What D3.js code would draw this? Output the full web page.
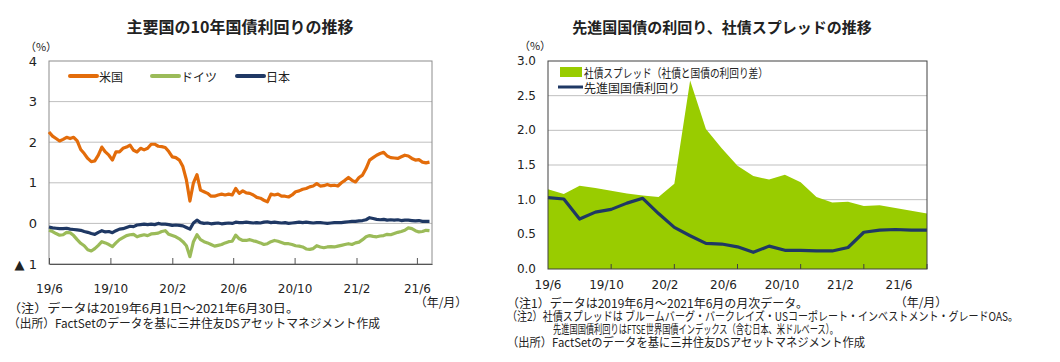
<!DOCTYPE html>
<html>
<head>
<meta charset="utf-8">
<script src="https://cdn.jsdelivr.net/npm/d3@7"></script>
<style>
  body { margin: 0; background: #fff; }
  svg text { font-family: "Noto Sans CJK JP", sans-serif; fill: #222; }
  .num { font-family: "DejaVu Sans", sans-serif; }
</style>
</head>
<body>
<script>
// ---- left chart data: weekly readings from 2019-06-01 ----
var startDate = new Date(2019, 5, 1);
var usYield = [2.25,2.15,2.09,2.03,2.07,2.12,2.09,2.12,2.03,1.82,1.72,1.60,1.52,1.54,1.68,1.88,1.76,1.68,1.56,1.76,
  1.76,1.85,1.88,1.93,1.80,1.76,1.85,1.81,1.85,1.95,1.95,1.90,1.89,1.87,1.77,1.64,1.62,1.56,1.40,1.07,
  0.55,1.00,1.20,0.82,0.78,0.74,0.67,0.67,0.70,0.72,0.70,0.72,0.70,0.86,0.74,0.80,0.75,0.74,0.70,0.64,
  0.62,0.57,0.53,0.72,0.70,0.72,0.67,0.67,0.65,0.70,0.78,0.80,0.84,0.86,0.90,0.92,0.98,0.92,0.93,0.96,
  0.93,0.94,0.92,1.00,1.06,1.13,1.06,1.02,1.13,1.19,1.35,1.56,1.62,1.68,1.72,1.75,1.66,1.62,1.61,1.60,
  1.64,1.68,1.66,1.60,1.56,1.57,1.51,1.49,1.51];
var deYield = [-0.17,-0.20,-0.25,-0.29,-0.28,-0.22,-0.23,-0.30,-0.40,-0.49,-0.55,-0.65,-0.68,-0.62,-0.54,-0.45,-0.48,-0.52,-0.57,-0.48,
  -0.40,-0.35,-0.30,-0.28,-0.27,-0.33,-0.30,-0.28,-0.30,-0.26,-0.25,-0.24,-0.20,-0.18,-0.27,-0.30,-0.33,-0.38,-0.45,-0.55,
  -0.82,-0.45,-0.28,-0.40,-0.45,-0.48,-0.52,-0.56,-0.54,-0.52,-0.48,-0.45,-0.44,-0.29,-0.38,-0.42,-0.42,-0.40,-0.43,-0.45,
  -0.48,-0.52,-0.50,-0.45,-0.42,-0.44,-0.47,-0.50,-0.50,-0.52,-0.55,-0.56,-0.58,-0.63,-0.64,-0.62,-0.55,-0.58,-0.60,-0.58,
  -0.57,-0.58,-0.56,-0.54,-0.52,-0.50,-0.52,-0.48,-0.46,-0.40,-0.33,-0.30,-0.32,-0.33,-0.31,-0.30,-0.27,-0.28,-0.25,-0.22,
  -0.20,-0.17,-0.11,-0.13,-0.18,-0.21,-0.20,-0.17,-0.18];
var jpYield = [-0.09,-0.11,-0.12,-0.13,-0.13,-0.12,-0.14,-0.15,-0.16,-0.17,-0.20,-0.22,-0.25,-0.27,-0.22,-0.18,-0.21,-0.20,-0.23,-0.18,
  -0.14,-0.13,-0.10,-0.07,-0.08,-0.04,-0.03,-0.02,-0.03,-0.02,-0.03,0.00,-0.02,-0.02,-0.03,-0.05,-0.04,-0.05,-0.06,-0.10,
  -0.14,0.01,0.08,0.02,0.00,0.01,-0.01,0.00,0.01,-0.01,0.00,0.01,0.00,0.03,0.02,0.02,0.03,0.02,0.01,0.02,
  0.01,0.03,0.04,0.02,0.03,0.02,0.01,0.02,0.00,0.01,0.02,0.03,0.02,0.03,0.02,0.01,0.02,0.02,0.01,0.00,
  0.01,0.02,0.02,0.02,0.03,0.04,0.05,0.05,0.06,0.07,0.09,0.14,0.12,0.10,0.09,0.10,0.08,0.09,0.08,0.09,
  0.07,0.08,0.08,0.07,0.06,0.07,0.05,0.05,0.05];
var leftTickLabels = ["19/6", "19/10", "20/2", "20/6", "20/10", "21/2", "21/6"];
var leftYTicks = [-1, 0, 1, 2, 3, 4];

// ---- right chart data: monthly 2019/6 - 2021/6 ----
var months = ["19/6","19/7","19/8","19/9","19/10","19/11","19/12","20/1","20/2","20/3","20/4","20/5","20/6",
  "20/7","20/8","20/9","20/10","20/11","20/12","21/1","21/2","21/3","21/4","21/5","21/6"];
var creditSpread = [1.15,1.08,1.20,1.17,1.13,1.09,1.06,1.04,1.23,2.72,2.02,1.74,1.49,1.34,1.29,1.36,1.25,1.04,0.96,0.97,0.91,0.92,0.88,0.84,0.80];
var govYield = [1.03,1.01,0.72,0.82,0.86,0.95,1.02,0.80,0.60,0.48,0.37,0.36,0.32,0.24,0.33,0.27,0.27,0.26,0.26,0.31,0.53,0.56,0.57,0.56,0.56];
var rightTickLabels = ["19/6", "19/10", "20/2", "20/6", "20/10", "21/2", "21/6"];
var rightYTicks = [0, 0.5, 1.0, 1.5, 2.0, 2.5, 3.0];

var orange = "#e36c0a", lime = "#9bbb59", navy = "#1f3864", spreadGreen = "#99cc00";

var svg = d3.select("body").append("svg")
  .attr("width", 1060)
  .attr("height", 362);

// ================= left chart =================
var lx0 = 49, lx1 = 432, ly0 = 61, ly1 = 264;
var parseLabel = function(s) {
  var p = s.split("/");
  return new Date(2000 + (+p[0]), +p[1] - 1, 1);
};
var xL = d3.scaleTime().domain([startDate, new Date(2021, 6, 1)]).range([lx0, lx1]);
var yL = d3.scaleLinear().domain([-1, 4]).range([ly1, ly0]);
var weekDates = usYield.map(function(d, i) { return d3.timeDay.offset(startDate, i * 7); });

var left = svg.append("g");

left.append("text")
  .attr("x", 240).attr("y", 26)
  .attr("text-anchor", "middle").attr("dominant-baseline", "central")
  .style("font-size", "16px").style("font-weight", "bold")
  .text("主要国の10年国債利回りの推移");

// gridlines
left.selectAll(".gridL").data(leftYTicks.filter(function(d) { return d > -1 && d < 4; }))
  .enter().append("line")
  .attr("x1", lx0).attr("x2", lx1)
  .attr("y1", function(d) { return yL(d); }).attr("y2", function(d) { return yL(d); })
  .attr("stroke", "#bfbfbf").attr("stroke-width", 1);

// frame
left.append("rect")
  .attr("x", lx0).attr("y", ly0).attr("width", lx1 - lx0).attr("height", ly1 - ly0)
  .attr("fill", "none").attr("stroke", "#8c8c8c").attr("stroke-width", 1);

// y axis labels
left.selectAll(".ylabL").data(leftYTicks).enter().append("text")
  .attr("class", "num")
  .attr("x", 37).attr("y", function(d) { return yL(d); })
  .attr("text-anchor", "end").attr("dominant-baseline", "central")
  .style("font-size", "13px")
  .text(function(d) { return d < 0 ? "▲ " + Math.abs(d) : d; });

left.append("text")
  .attr("x", 41).attr("y", 46).attr("text-anchor", "middle").attr("dominant-baseline", "central")
  .style("font-size", "11px").text("（%）");

// x axis ticks + labels
var xAxisL = left.append("g").attr("transform", "translate(0," + ly1 + ")")
  .call(d3.axisBottom(xL)
    .tickValues(leftTickLabels.map(parseLabel))
    .tickSizeInner(-6).tickSizeOuter(0)
    .tickFormat(function(d, i) { return leftTickLabels[i]; }));
xAxisL.select(".domain").attr("stroke", "#555");
xAxisL.selectAll(".tick line").attr("stroke", "#555");
xAxisL.selectAll(".tick text")
  .attr("class", "num").attr("y", 20)
  .style("font-size", "12px").style("fill", "#222")
  .attr("font-family", null);

left.append("text")
  .attr("x", 441).attr("y", 301).attr("text-anchor", "middle").attr("dominant-baseline", "central")
  .style("font-size", "12px").text("（年/月）");

// lines
var lineL = function(vals) {
  return d3.line()
    .x(function(d, i) { return xL(weekDates[i]); })
    .y(function(d) { return yL(d); })(vals);
};
var seriesL = [
  { name: "米国", vals: usYield, color: orange },
  { name: "ドイツ", vals: deYield, color: lime },
  { name: "日本", vals: jpYield, color: navy }
];
left.selectAll(".serL").data([seriesL[1], seriesL[2], seriesL[0]]).enter().append("path")
  .attr("d", function(d) { return lineL(d.vals); })
  .attr("fill", "none")
  .attr("stroke", function(d) { return d.color; })
  .attr("stroke-width", 3.2)
  .attr("stroke-linejoin", "round");

// legend
var legX = [70, 152, 237];
var legL = left.selectAll(".legL").data(seriesL).enter().append("g")
  .attr("transform", function(d, i) { return "translate(" + legX[i] + ",76)"; });
legL.append("line").attr("x1", 0).attr("x2", 27).attr("y1", 0).attr("y2", 0)
  .attr("stroke", function(d) { return d.color; }).attr("stroke-width", 4)
  .attr("stroke-linecap", "round");
legL.append("text").attr("x", 29).attr("y", 0).attr("dominant-baseline", "central")
  .style("font-size", "12px").text(function(d) { return d.name; });

// notes
left.append("text").attr("x", 8).attr("y", 307).attr("dominant-baseline", "central")
  .style("font-size", "12px").attr("textLength", 291).attr("lengthAdjust", "spacingAndGlyphs")
  .text("（注）データは2019年6月1日～2021年6月30日。");
left.append("text").attr("x", 8).attr("y", 322).attr("dominant-baseline", "central")
  .style("font-size", "12px").attr("textLength", 372).attr("lengthAdjust", "spacingAndGlyphs")
  .text("（出所）FactSetのデータを基に三井住友DSアセットマネジメント作成");

// ================= right chart =================
var rx0 = 548, rx1 = 927, ry0 = 61, ry1 = 269;
var xR = d3.scalePoint().domain(months).range([rx0, rx1]);
var xRLab = d3.scalePoint().domain(rightTickLabels).range([548, 899]);
var yR = d3.scaleLinear().domain([0, 3]).range([ry1, ry0]);

var right = svg.append("g");

right.append("text")
  .attr("x", 722).attr("y", 26)
  .attr("text-anchor", "middle").attr("dominant-baseline", "central")
  .style("font-size", "15px").style("font-weight", "bold")
  .text("先進国国債の利回り、社債スプレッドの推移");

right.selectAll(".gridR").data(rightYTicks.filter(function(d) { return d > 0 && d < 3; }))
  .enter().append("line")
  .attr("x1", rx0).attr("x2", rx1)
  .attr("y1", function(d) { return yR(d); }).attr("y2", function(d) { return yR(d); })
  .attr("stroke", "#bfbfbf").attr("stroke-width", 1);

right.append("path")
  .attr("d", d3.area()
    .x(function(d, i) { return xR(months[i]); })
    .y0(yR(0))
    .y1(function(d) { return yR(d); })(creditSpread))
  .attr("fill", spreadGreen);

right.append("path")
  .attr("d", d3.line()
    .x(function(d, i) { return xR(months[i]); })
    .y(function(d) { return yR(d); })(govYield))
  .attr("fill", "none").attr("stroke", navy).attr("stroke-width", 3.2)
  .attr("stroke-linejoin", "round");

right.append("rect")
  .attr("x", rx0).attr("y", ry0).attr("width", rx1 - rx0).attr("height", ry1 - ry0)
  .attr("fill", "none").attr("stroke", "#404040").attr("stroke-width", 1);

// ticks every 4 months
right.selectAll(".tickR").data(months.filter(function(d, i) { return i % 4 === 0 && i > 0; }))
  .enter().append("line")
  .attr("x1", function(d) { return xR(d); }).attr("x2", function(d) { return xR(d); })
  .attr("y1", ry1).attr("y2", ry1 - 5)
  .attr("stroke", "#404040");

right.selectAll(".ylabR").data(rightYTicks).enter().append("text")
  .attr("class", "num")
  .attr("x", 536).attr("y", function(d) { return yR(d); })
  .attr("text-anchor", "end").attr("dominant-baseline", "central")
  .style("font-size", "12px")
  .text(function(d) { return d3.format(".1f")(d); });

right.append("text")
  .attr("x", 535).attr("y", 45).attr("text-anchor", "middle").attr("dominant-baseline", "central")
  .style("font-size", "11px").text("（%）");

right.selectAll(".xlabR").data(rightTickLabels).enter().append("text")
  .attr("class", "num")
  .attr("x", function(d) { return xRLab(d); }).attr("y", 285)
  .attr("text-anchor", "middle").attr("dominant-baseline", "central")
  .style("font-size", "12px")
  .text(function(d) { return d; });

right.append("text")
  .attr("x", 921).attr("y", 301).attr("text-anchor", "middle").attr("dominant-baseline", "central")
  .style("font-size", "12px").text("（年/月）");

// legend
right.append("rect").attr("x", 560).attr("y", 67).attr("width", 22).attr("height", 10).attr("fill", spreadGreen);
right.append("text").attr("x", 584).attr("y", 72).attr("dominant-baseline", "central")
  .style("font-size", "12px").attr("textLength", 184).attr("lengthAdjust", "spacingAndGlyphs")
  .text("社債スプレッド（社債と国債の利回り差）");
right.append("line").attr("x1", 558).attr("x2", 583).attr("y1", 87).attr("y2", 87)
  .attr("stroke", navy).attr("stroke-width", 3);
right.append("text").attr("x", 584).attr("y", 87).attr("dominant-baseline", "central")
  .style("font-size", "12px").text("先進国国債利回り");

// notes
var notesR = [
  { x: 507, y: 302, w: 301, t: "（注1）データは2019年6月～2021年6月の月次データ。" },
  { x: 507, y: 315, w: 511, t: "（注2）社債スプレッドは ブルームバーグ・バークレイズ・USコーポレート・インベストメント・グレードOAS。" },
  { x: 553, y: 328, w: 285, t: "先進国国債利回りはFTSE世界国債インデックス（含む日本、米ドルベース）。" },
  { x: 507, y: 341, w: 358, t: "（出所）FactSetのデータを基に三井住友DSアセットマネジメント作成" }
];
right.selectAll(".noteR").data(notesR).enter().append("text")
  .attr("x", function(d) { return d.x; }).attr("y", function(d) { return d.y; })
  .attr("dominant-baseline", "central")
  .style("font-size", "12px")
  .attr("textLength", function(d) { return d.w; }).attr("lengthAdjust", "spacingAndGlyphs")
  .text(function(d) { return d.t; });
</script>
</body>
</html>
